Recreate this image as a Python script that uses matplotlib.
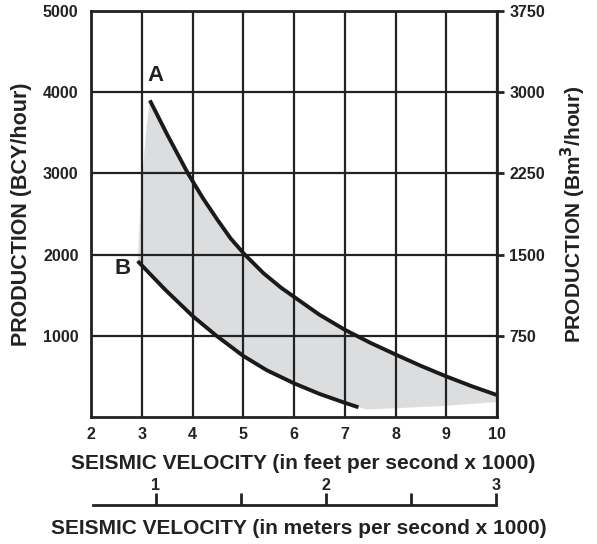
import matplotlib
matplotlib.use("Agg")
import matplotlib.pyplot as plt

plt.rcParams['font.family'] = ['Liberation Sans', 'DejaVu Sans']
plt.rcParams['font.weight'] = 'bold'

# Curve A (upper) and curve B (lower): velocity (ft/s x1000), production (BCY/hour)
a_x = [3.16, 3.5, 3.91, 4.2, 4.49, 4.75, 5.03, 5.4, 5.75, 6.0, 6.5, 7.0, 7.5, 8.0, 8.5, 9.0, 9.5, 10.0]
a_y = [3900, 3480, 3000, 2700, 2430, 2200, 2000, 1770, 1590, 1480, 1260, 1075, 915, 770, 630, 500, 380, 270]
b_x = [2.92, 3.2, 3.46, 3.75, 4.0, 4.46, 5.0, 5.46, 6.0, 6.5, 7.0, 7.27]
b_y = [1920, 1738, 1569, 1395, 1245, 1006, 752, 577, 415, 285, 175, 120]
# outer edges of the shaded band (left edge and lower edge past curve B)
sl_x = [2.92, 3.0, 3.1, 3.16]
sl_y = [1920, 2900, 3600, 3900]
sb_x = [7.27, 7.45, 8.0, 9.0, 10.0]
sb_y = [120, 92, 108, 138, 185]

x_ticks = [2, 3, 4, 5, 6, 7, 8, 9, 10]
y_ticks = [1000, 2000, 3000, 4000, 5000]
y2_ticks = [750, 1500, 2250, 3000, 3750]
m_ticks_major = [1, 2, 3]
m_ticks_minor = [1.5, 2.5]

INK = '#222222'
W, H = 597, 544
fig = plt.figure(figsize=(W / 100, H / 100), dpi=100)
L, R, B, T = 91, 497, 417, 11
ax = fig.add_axes([L / W, 1 - B / H, (R - L) / W, (B - T) / H])

# shaded band
px = list(sl_x) + list(a_x) + list(sb_x[::-1]) + list(b_x[::-1])
py = list(sl_y) + list(a_y) + list(sb_y[::-1]) + list(b_y[::-1])
ax.fill(px, py, color='#dcdddf', lw=0, zorder=1)

ax.set_xlim(2, 10)
ax.set_ylim(0, 5000)
ax.set_xticks(x_ticks)
ax.set_yticks(y_ticks)
ax.grid(True, color=INK, lw=1.6, zorder=2)
ax.set_axisbelow(False)
for s in ax.spines.values():
    s.set_linewidth(2.0)
    s.set_color(INK)
    s.set_zorder(3)

ax.plot(a_x, a_y, color='#1a1a1a', lw=2.8, solid_capstyle='butt',
        solid_joinstyle='round', zorder=4)
ax.plot(b_x, b_y, color='#1a1a1a', lw=2.8, solid_capstyle='butt',
        solid_joinstyle='round', zorder=4)
ax.text(3.27, 4200, 'A', fontsize=16, fontweight='bold', ha='center', va='center', color=INK)
ax.text(2.63, 1830, 'B', fontsize=16, fontweight='bold', ha='center', va='center', color=INK)

ax.tick_params(axis='x', length=0, pad=7, labelsize=11.5, colors=INK)
ax.tick_params(axis='y', length=0, pad=9, labelsize=11.5, colors=INK)
for lab in ax.get_xticklabels() + ax.get_yticklabels():
    lab.set_fontweight('bold')
ax.set_xlabel('SEISMIC VELOCITY (in feet per second x 1000)', fontsize=15,
              fontweight='bold', labelpad=9, color=INK)
ax.xaxis.label.set_x(0.522)
ax.set_ylabel('PRODUCTION (BCY/hour)', fontsize=15.5, fontweight='bold',
              labelpad=8, color=INK)

# right axis (metric)
ax2 = ax.twinx()
ax2.set_ylim(0, 3750)
ax2.set_yticks(y2_ticks)
ax2.tick_params(axis='y', length=5, width=2, pad=4, labelsize=11.5, colors=INK)
for lab in ax2.get_yticklabels():
    lab.set_fontweight('bold')
for s in ax2.spines.values():
    s.set_visible(False)
ax2.set_ylabel('PRODUCTION (Bm$^3$/hour)', fontsize=15, fontweight='bold',
               labelpad=10, color=INK)

# metric velocity scale below
ML, MR, MY = 91, 497, 505
axm = fig.add_axes([ML / W, 1 - MY / H - 0.0005, (MR - ML) / W, 0.0005])
axm.set_xlim(0.618, 3.006)
axm.set_ylim(0, 1)
for k in ['left', 'right', 'bottom', 'top']:
    axm.spines[k].set_visible(False)
axm.set_yticks([])
axm.plot([0.63, 3.0], [1, 1], color=INK, lw=2.0, clip_on=False)
axm.xaxis.tick_top()
axm.set_xticks(m_ticks_major)
axm.set_xticks(m_ticks_minor, minor=True)
axm.tick_params(axis='x', which='both', direction='out', length=9, width=2,
                colors=INK, pad=0, labelsize=11.5)
for lab in axm.get_xticklabels():
    lab.set_fontweight('bold')
axm.xaxis.set_label_position('bottom')
axm.set_xlabel('SEISMIC VELOCITY (in meters per second x 1000)', fontsize=15,
               fontweight='bold', labelpad=10, color=INK)
axm.xaxis.label.set_x(0.512)

fig.savefig('out.png', dpi=100)
